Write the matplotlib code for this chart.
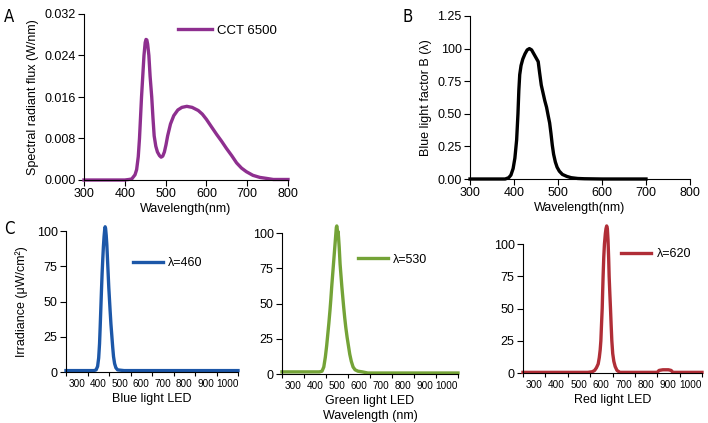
import numpy as np
import matplotlib
matplotlib.use("Agg")
import matplotlib.pyplot as plt

plt.rcParams['font.family'] = ['Liberation Sans', 'DejaVu Sans']
plt.rcParams['font.size'] = 9

# --- data ---
# A: spectral radiant flux of the CCT 6500 source
a_wl = [300, 350, 400, 410, 417, 425, 429, 433, 436, 441, 444, 447, 450, 452, 454, 456,
        459, 462, 466, 469, 472, 476, 480, 485, 489, 493, 497, 501, 505, 512, 520, 530,
        540, 552, 565, 580, 590, 600, 612, 625, 637, 649, 662, 674, 686, 698, 714, 731,
        748, 764, 782, 800]
a_flux = [0, 0, 0, 0.0001, 0.0002, 0.001, 0.002, 0.0045, 0.008, 0.016, 0.020, 0.024,
          0.0265, 0.0271, 0.027, 0.0262, 0.024, 0.020, 0.016, 0.012, 0.0085, 0.0065,
          0.0054, 0.0047, 0.0044, 0.0046, 0.0054, 0.0068, 0.0085, 0.0108, 0.0124, 0.0135,
          0.0140, 0.0142, 0.0140, 0.0134, 0.0127, 0.0117, 0.0103, 0.0088, 0.0075, 0.0061,
          0.0047, 0.0033, 0.0023, 0.0016, 0.0009, 0.0005, 0.0003, 0.0001, 0.0001, 0.0001]

# B: blue light hazard factor
b_wl = [300, 380, 388, 393, 398, 402, 406, 409, 411, 413, 416, 420, 425, 430, 435, 440,
        445, 450, 455, 458, 462, 466, 470, 474, 478, 481, 484, 487, 490, 494, 498, 503,
        510, 520, 530, 545, 560, 600, 700]
b_val = [0, 0, 0.01, 0.03, 0.08, 0.16, 0.3, 0.5, 0.68, 0.8, 0.87, 0.92, 0.96, 0.99, 1.0,
         0.99, 0.96, 0.93, 0.9, 0.82, 0.72, 0.66, 0.6, 0.55, 0.48, 0.43, 0.35, 0.26, 0.19,
         0.13, 0.09, 0.06, 0.035, 0.02, 0.01, 0.004, 0.002, 0, 0]
b_yticks = [0, 0.25, 0.5, 0.75, 1.0, 1.25]
b_ytick_labels = ["0.00", "0.25", "0.50", "0.75", "100", "1.25"]

# C: LED irradiance spectra
blue_wl = [250, 380, 390, 397, 402, 406, 409, 412, 415, 418, 421, 424, 427, 430, 432, 434,
           437, 440, 443, 446, 449, 452, 455, 459, 463, 467, 471, 476, 482, 490, 520, 1050]
blue_irr = [1, 1, 1.5, 4, 10, 20, 32, 45, 58, 70, 80, 89, 96, 101, 103, 102, 97, 90, 80,
            70, 60, 52, 44, 34, 26, 18, 11, 6, 3, 1.5, 1, 1]

green_wl = [250, 420, 432, 440, 447, 453, 458, 463, 468, 472, 476, 480, 484, 488, 492, 495,
            497, 499, 501, 503, 505, 507, 510, 514, 518, 522, 526, 530, 535, 540, 546, 552,
            558, 565, 573, 582, 595, 615, 640, 1050]
green_irr = [1.5, 1.5, 2, 5, 12, 20, 28, 36, 45, 53, 62, 70, 78, 86, 94, 100, 104, 105, 103,
             99, 101, 97, 90, 78, 70, 62, 55, 48, 40, 33, 26, 20, 14, 9, 5, 3, 2, 1.5, 0.7, 0.7]

red_wl = [250, 540, 560, 570, 578, 586, 591, 595, 598, 601, 604, 606, 608, 611, 614, 618,
          621, 624, 627, 630, 633, 635, 638, 641, 644, 647, 651, 656, 662, 670, 683, 850,
          858, 875, 900, 912, 920, 1050]
red_irr = [0.5, 0.5, 1, 2, 4, 7, 12, 18, 25, 38, 50, 63, 75, 90, 100, 108, 112, 114, 112,
           103, 88, 75, 62, 50, 37, 25, 15, 9, 5, 2, 0.5, 0.5, 2, 2.5, 2.5, 2, 0.5, 0.5]

led_xlabels = [300, 400, 500, 600, 700, 800, 900, 1000]
led_yticks = [0, 25, 50, 75, 100]

W, H = 708, 423
fig = plt.figure(figsize=(W / 100, H / 100), dpi=100)


def axes_px(left, top, right, bottom):
    return fig.add_axes([left / W, 1 - bottom / H, (right - left) / W, (bottom - top) / H])


def style(ax):
    for s in ["top", "right"]:
        ax.spines[s].set_visible(False)
    ax.tick_params(direction="out", length=4, width=0.8, pad=2, labelsize=9)


# Panel A
ax = axes_px(84, 14, 288, 180)
style(ax)
ax.plot(a_wl, a_flux, color="#8e2f8f", lw=2.4, label="CCT 6500", clip_on=False,
        solid_joinstyle="round")
ax.set_xlim(300, 800)
ax.set_ylim(0, 0.032)
ax.set_yticks([0, 0.008, 0.016, 0.024, 0.032])
ax.set_yticklabels(["0.000", "0.008", "0.016", "0.024", "0.032"])
ax.set_xticks(range(300, 801, 100))
ax.set_xlabel("Wavelength(nm)", labelpad=2)
ax.set_ylabel("Spectral radiant flux (W/nm)", labelpad=4)
ax.legend(loc="center left", bbox_to_anchor=(0.46, 0.9), frameon=False,
          handlelength=2.6, handletextpad=0.4, borderpad=0, borderaxespad=0, fontsize=9.5)

# Panel B
ax = axes_px(470, 16, 690, 179)
style(ax)
ax.plot(b_wl, b_val, color="black", lw=2.4, clip_on=False, solid_joinstyle="round")
ax.set_xlim(300, 800)
ax.set_ylim(0, 1.25)
ax.set_yticks(b_yticks)
ax.set_yticklabels(b_ytick_labels)
ax.set_xticks(range(300, 801, 100))
ax.set_xlabel("Wavelength(nm)", labelpad=2)
ax.set_ylabel("Blue light factor B (\u03bb)", labelpad=4)

# Panel C
leds = [
    (blue_wl, blue_irr, "#1c57a8", "\u03bb=460", "Blue light LED", (66, 231, 238, 372), (0.39, 0.77)),
    (green_wl, green_irr, "#74a337", "\u03bb=530", "Green light LED\nWavelength (nm)", (282, 233, 458, 374), (0.43, 0.81)),
    (red_wl, red_irr, "#b02e37", "\u03bb=620", "Red light LED", (523, 244, 702, 373), (0.55, 0.92)),
]
for i, (wl, irr, col, lab, xlab, box, leg) in enumerate(leds):
    ax = axes_px(*box)
    style(ax)
    ax.plot(wl, irr, color=col, lw=2.4, label=lab, clip_on=False, solid_joinstyle="round")
    ax.set_xlim(250, 1050)
    ax.set_ylim(0, 100)
    ax.set_yticks(led_yticks)
    ax.set_xticks(led_xlabels)
    ax.set_xticklabels([str(v) for v in led_xlabels], fontsize=7.2)
    ax.set_xticks(range(250, 1051, 100), minor=True)
    ax.tick_params(axis="x", which="major", length=0, pad=5)
    ax.tick_params(axis="x", which="minor", direction="out", length=3, width=0.8)
    ax.set_xlabel(xlab, labelpad=3, linespacing=1.35)
    if i == 0:
        ax.set_ylabel("Irradiance (\u03bcW/cm\u00b2)", labelpad=6)
    ax.legend(loc="center left", bbox_to_anchor=leg, frameon=False,
              handlelength=2.4, handletextpad=0.4, borderpad=0, borderaxespad=0, fontsize=9)

# panel letters
for txt, x, y in [("A", 4, 8), ("B", 403, 8), ("C", 4, 220)]:
    fig.text(x / W, 1 - y / H, txt, fontsize=12, va="top", ha="left",
             family=["DejaVu Sans"], stretch="condensed")

fig.savefig("out.png", dpi=100)
